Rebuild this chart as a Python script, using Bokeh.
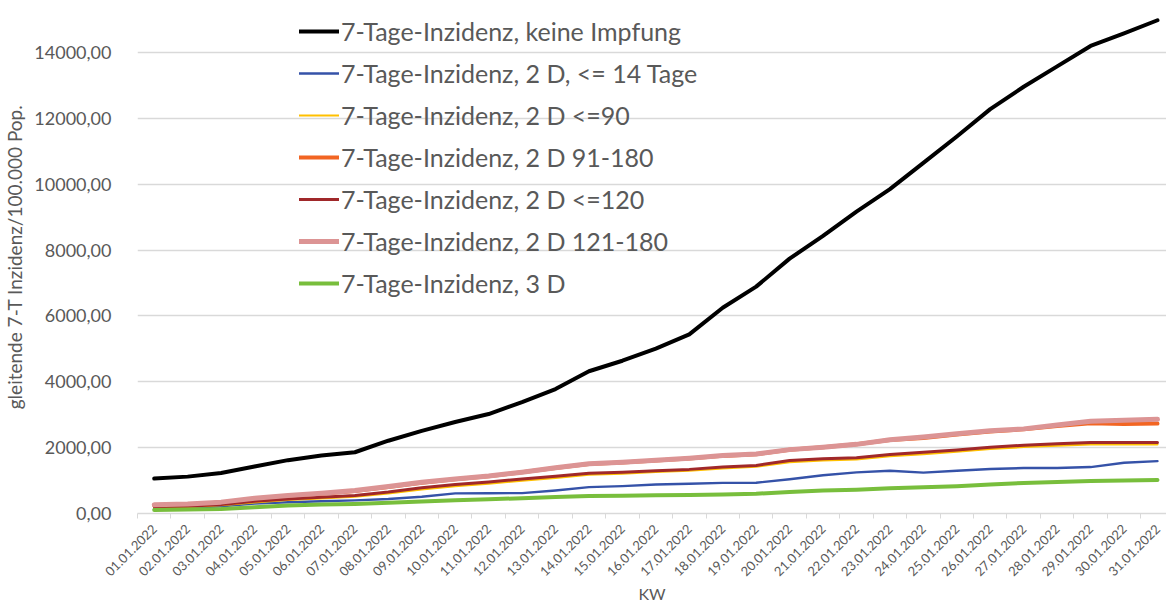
import math
from bokeh.plotting import figure
from bokeh.models import Range1d, FixedTicker, CustomJSTickFormatter, Legend, LegendItem
from bokeh.embed import file_html
from bokeh.resources import INLINE

dates = ["%02d.01.2022" % d for d in range(1, 32)]

keine_impfung = [1060, 1120, 1230, 1430, 1620, 1760, 1860, 2210, 2510, 2780, 3020,
                 3380, 3780, 4320, 4640, 5010, 5440, 6250, 6890, 7740, 8430,
                 9170, 9850, 10650, 11450, 12280, 12960, 13580, 14200, 14580, 14980]
d2_le14 = [160, 170, 220, 300, 340, 370, 400, 440, 510, 610, 615,
           620, 700, 800, 830, 880, 905, 930, 935, 1040, 1160,
           1250, 1300, 1240, 1300, 1350, 1380, 1380, 1410, 1540, 1590]
d2_le90 = [190, 200, 250, 340, 410, 460, 510, 610, 730, 830, 910,
           1000, 1080, 1180, 1210, 1260, 1300, 1370, 1420, 1560, 1610,
           1640, 1740, 1800, 1880, 1960, 2020, 2060, 2100, 2095, 2095]
d2_91_180 = [250, 270, 335, 445, 530, 600, 685, 805, 935, 1040, 1130,
             1250, 1385, 1505, 1550, 1610, 1670, 1750, 1800, 1935, 2010,
             2100, 2230, 2290, 2400, 2490, 2555, 2660, 2740, 2720, 2730]
d2_le120 = [210, 220, 270, 370, 440, 490, 545, 650, 780, 880, 960,
            1050, 1130, 1225, 1255, 1300, 1340, 1410, 1460, 1610, 1660,
            1690, 1790, 1860, 1930, 2010, 2075, 2115, 2155, 2155, 2155]
d2_121_180 = [265, 285, 345, 460, 545, 615, 700, 820, 950, 1050, 1140,
              1255, 1390, 1510, 1560, 1620, 1680, 1760, 1810, 1940, 2010,
              2100, 2240, 2320, 2420, 2510, 2570, 2690, 2800, 2830, 2860]
d3 = [110, 120, 140, 190, 240, 270, 290, 325, 365, 405, 430,
      465, 500, 530, 540, 555, 565, 580, 600, 650, 700,
      725, 770, 800, 830, 880, 930, 960, 990, 1000, 1020]

series_labels = ["7-Tage-Inzidenz, keine Impfung",
                 "7-Tage-Inzidenz, 2 D, <= 14 Tage",
                 "7-Tage-Inzidenz, 2 D <=90",
                 "7-Tage-Inzidenz, 2 D 91-180",
                 "7-Tage-Inzidenz, 2 D <=120",
                 "7-Tage-Inzidenz, 2 D 121-180",
                 "7-Tage-Inzidenz, 3 D"]
series_values = [keine_impfung, d2_le14, d2_le90, d2_91_180, d2_le120, d2_121_180, d3]
colors = ["#000000", "#3552A8", "#FFC000", "#F26522", "#A0282A", "#DC9494", "#78BE3C"]
widths = [4, 2.4, 2.2, 4, 3, 5, 4]
y_ticks = [0, 2000, 4000, 6000, 8000, 10000, 12000, 14000]

x = list(range(len(dates)))
FONT = "Lato"
TXT = "#595959"
GRID = "#D9D9D9"

p = figure(width=1166, height=605, output_backend="svg", toolbar_location=None,
           x_range=Range1d(-0.5, 30.27), y_range=Range1d(0, 15580),
           min_border_left=130, min_border_right=0, min_border_top=0, min_border_bottom=92)
p.outline_line_color = None
p.background_fill_color = "white"

renderers = []
for vals, c, w in zip(series_values, colors, widths):
    r = p.line(x, vals, line_color=c, line_width=w, line_join="round", line_cap="round")
    renderers.append(r)

# x axis
xa = p.xaxis[0]
xa.ticker = FixedTicker(ticks=x, minor_ticks=[i - 0.5 for i in range(32)])
xa.major_label_overrides = {i: d for i, d in enumerate(dates)}
xa.major_label_orientation = math.pi / 4
xa.major_tick_out = 0
xa.major_tick_in = 0
xa.minor_tick_out = 5
xa.minor_tick_in = 0
xa.minor_tick_line_color = GRID
xa.axis_line_color = GRID
xa.axis_line_width = 1.5
xa.major_label_text_font = FONT
xa.major_label_text_font_size = "13px"
xa.major_label_text_color = TXT
xa.major_label_standoff = 8
xa.axis_label = "KW"
xa.axis_label_text_font = FONT
xa.axis_label_text_font_style = "normal"
xa.axis_label_text_font_size = "16px"
xa.axis_label_text_color = TXT
xa.axis_label_standoff = 0

# y axis
ya = p.yaxis[0]
ya.ticker = FixedTicker(ticks=y_ticks)
ya.formatter = CustomJSTickFormatter(code="return tick.toFixed(2).replace('.', ',');")
ya.axis_line_color = None
ya.major_tick_line_color = None
ya.minor_tick_line_color = None
ya.major_label_text_font = FONT
ya.major_label_text_font_size = "18px"
ya.major_label_text_color = TXT
ya.major_label_standoff = 20
ya.axis_label = "gleitende 7-T Inzidenz/100.000 Pop."
ya.axis_label_text_font = FONT
ya.axis_label_text_font_style = "normal"
ya.axis_label_text_font_size = "19px"
ya.axis_label_text_color = TXT
ya.axis_label_standoff = 5

p.xgrid.grid_line_color = None
p.ygrid.ticker = FixedTicker(ticks=y_ticks)
p.ygrid.grid_line_color = GRID
p.ygrid.grid_line_width = 1.5

legend = Legend(items=[LegendItem(label=l, renderers=[r]) for l, r in zip(series_labels, renderers)],
                location=(162, 215), glyph_width=40, glyph_height=28, label_height=28,
                label_standoff=2, spacing=12, padding=0, margin=0,
                background_fill_alpha=0, border_line_color=None,
                label_text_font=FONT, label_text_font_size="25px", label_text_color=TXT)
p.add_layout(legend, "center")

open("out.html", "w").write(file_html(p, INLINE))
